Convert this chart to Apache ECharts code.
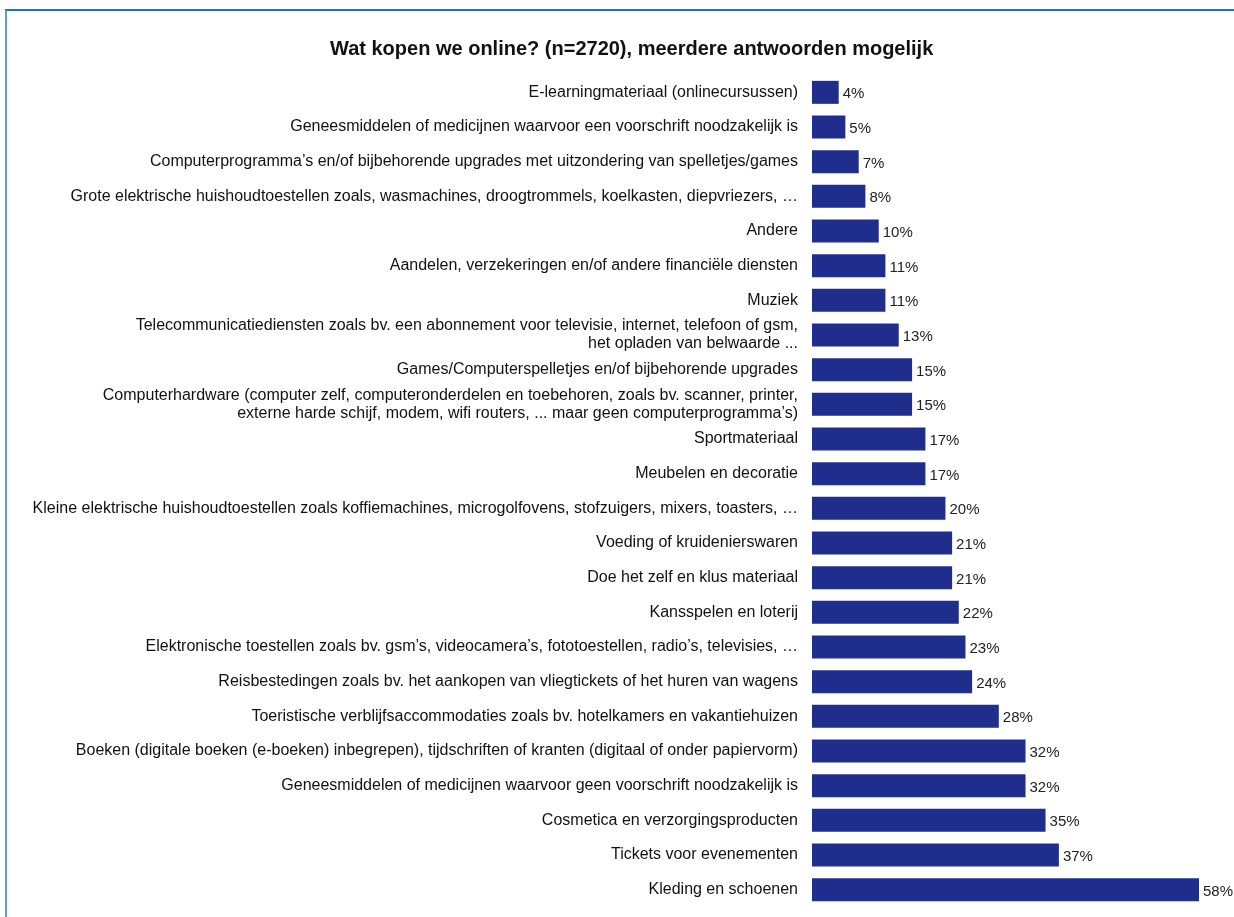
<!DOCTYPE html>
<html>
<head>
<meta charset="utf-8">
<style>
  html, body { margin: 0; padding: 0; background: #fff; }
  #chart { width: 1234px; height: 917px; }
</style>
<script src="https://cdn.jsdelivr.net/npm/echarts@6/dist/echarts.min.js"></script>
</head>
<body>
<div id="chart"></div>
<script>
// Survey answers, top to bottom
const categories = [
  'E-learningmateriaal (onlinecursussen)',
  'Geneesmiddelen of medicijnen waarvoor een voorschrift noodzakelijk is',
  'Computerprogramma\u2019s en/of bijbehorende upgrades met uitzondering van spelletjes/games',
  'Grote elektrische huishoudtoestellen zoals, wasmachines, droogtrommels, koelkasten, diepvriezers, \u2026',
  'Andere',
  'Aandelen, verzekeringen en/of andere financi\u00eble diensten',
  'Muziek',
  'Telecommunicatiediensten zoals bv. een abonnement voor televisie, internet, telefoon of gsm,\nhet opladen van belwaarde ...',
  'Games/Computerspelletjes en/of bijbehorende upgrades',
  'Computerhardware (computer zelf, computeronderdelen en toebehoren, zoals bv. scanner, printer,\nexterne harde schijf, modem, wifi routers, ... maar geen computerprogramma\u2019s)',
  'Sportmateriaal',
  'Meubelen en decoratie',
  'Kleine elektrische huishoudtoestellen zoals koffiemachines, microgolfovens, stofzuigers, mixers, toasters, \u2026',
  'Voeding of kruidenierswaren',
  'Doe het zelf en klus materiaal',
  'Kansspelen en loterij',
  'Elektronische toestellen zoals bv. gsm\u2019s, videocamera\u2019s, fototoestellen, radio\u2019s, televisies, \u2026',
  'Reisbestedingen zoals bv. het aankopen van vliegtickets of het huren van wagens',
  'Toeristische verblijfsaccommodaties zoals bv. hotelkamers en vakantiehuizen',
  'Boeken (digitale boeken (e-boeken) inbegrepen), tijdschriften of kranten (digitaal of onder papiervorm)',
  'Geneesmiddelen of medicijnen waarvoor geen voorschrift noodzakelijk is',
  'Cosmetica en verzorgingsproducten',
  'Tickets voor evenementen',
  'Kleding en schoenen'
];

// Share of respondents (%)
const percentages = [4, 5, 7, 8, 10, 11, 11, 13, 15, 15, 17, 17, 20, 21, 21, 22, 23, 24, 28, 32, 32, 35, 37, 58];

const titleText = 'Wat kopen we online? (n=2720), meerdere antwoorden mogelijk';

const FONT = '"Liberation Sans", Arial, sans-serif';

const chart = echarts.init(document.getElementById('chart'), null, { renderer: 'canvas' });

chart.setOption({
  backgroundColor: '#ffffff',
  animation: false,
  title: {
    text: titleText,
    left: 325,
    top: 34,
    textStyle: { fontFamily: FONT, fontWeight: 'bold', fontSize: 20, color: '#111' }
  },
  graphic: [
    { type: 'line', shape: { x1: 5, y1: 10, x2: 1234, y2: 10 }, style: { stroke: '#1f6fc4', lineWidth: 2 } },
    { type: 'line', shape: { x1: 6, y1: 10, x2: 6, y2: 917 }, style: { stroke: '#5a9bd0', lineWidth: 2 } }
  ],
  grid: { left: 812, top: 75, width: 387, height: 832, containLabel: false },
  xAxis: {
    type: 'value',
    min: 0,
    max: 58,
    show: false
  },
  yAxis: {
    type: 'category',
    inverse: true,
    data: categories,
    axisLine: { show: false },
    axisTick: { show: false },
    splitLine: { show: false },
    axisLabel: {
      margin: 14,
      fontFamily: FONT,
      fontSize: 16,
      lineHeight: 18,
      color: '#111',
      align: 'right'
    }
  },
  series: [{
    type: 'bar',
    data: percentages,
    barWidth: 23,
    itemStyle: { color: '#1f2e8c' },
    label: {
      show: true,
      position: 'right',
      distance: 4,
      offset: [0, 2],
      formatter: p => p.value + '%',
      fontFamily: FONT,
      fontSize: 15,
      color: '#222'
    }
  }]
});
</script>
</body>
</html>
